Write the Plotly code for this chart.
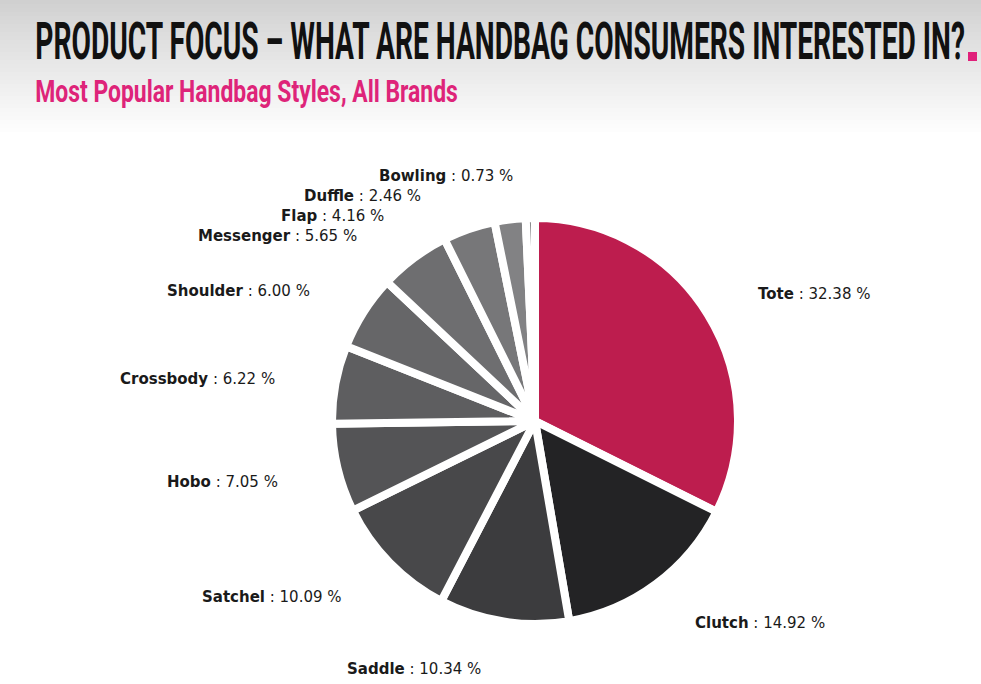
import math
import plotly.graph_objects as go

# Handbag style shares (percent of all brands)
styles = ["Tote", "Clutch", "Saddle", "Satchel", "Hobo", "Crossbody",
          "Shoulder", "Messenger", "Flap", "Duffle", "Bowling"]
shares = [32.38, 14.92, 10.34, 10.09, 7.05, 6.22, 6.00, 5.65, 4.16, 2.46, 0.73]
slice_colors = ["#bd1d4e", "#232325", "#3c3c3e", "#48484a", "#545456", "#5e5e60",
                "#666668", "#6e6e70", "#777779", "#828284", "#8c8c8e"]

title_text = "PRODUCT FOCUS – WHAT ARE HANDBAG CONSUMERS INTERESTED IN?"
subtitle_text = "Most Popular Handbag Styles, All Brands"

W, H = 981, 684
CX, CY, R = 535, 421, 203          # pie centre and radius in pixels
LABEL_R = 1.22 * R                 # radius of the label ring
GAP_RIGHT, GAP_LEFT = 10, 14       # horizontal offset of label from ring
LINE_H = 20                        # minimum vertical spacing between labels


def px(x):
    return x / W


def py(y):
    return 1 - y / H


fig = go.Figure()

fig.add_trace(go.Pie(
    labels=styles,
    values=shares,
    sort=False,
    direction="clockwise",
    rotation=0,
    marker=dict(colors=slice_colors, line=dict(color="white", width=8)),
    textinfo="none",
    hoverinfo="label+percent",
    showlegend=False,
    domain=dict(x=[px(CX - R), px(CX + R)], y=[py(CY + R), py(CY - R)]),
))

# label positions: mid angle of each slice on an outer ring
total = sum(shares)
cum = 0.0
labels = []
for name, v in zip(styles, shares):
    mid = (cum + v / 2) / total * 2 * math.pi
    cum += v
    x = CX + LABEL_R * math.sin(mid)
    y = CY - LABEL_R * math.cos(mid)
    labels.append(dict(name=name, value=v, x=x, y=y, right=math.sin(mid) >= 0))

# keep labels on each side from overlapping: push down from the top
for side in (True, False):
    group = sorted([l for l in labels if l["right"] == side], key=lambda l: l["y"])
    prev = None
    for l in group:
        if prev is not None and l["y"] < prev + LINE_H:
            l["y"] = prev + LINE_H
            dy = l["y"] - CY
            dx = math.sqrt(max(LABEL_R ** 2 - dy ** 2, 0))
            l["x"] = CX + dx if side else CX - dx
        prev = l["y"]

annotations = [
    dict(text=f"<b>{title_text}</b>", x=px(33), y=py(42), xref="paper", yref="paper",
         xanchor="left", yanchor="middle", showarrow=False,
         font=dict(family="Roboto", size=52, color="#111111")),
    dict(text=f"<b>{subtitle_text}</b>", x=px(33), y=py(91), xref="paper", yref="paper",
         xanchor="left", yanchor="middle", showarrow=False,
         font=dict(family="Roboto", size=31, color="#de2479")),
]
for l in labels:
    annotations.append(dict(
        text=f"<b>{l['name']}</b> : {l['value']:.2f} %",
        x=px(l["x"] + (GAP_RIGHT if l["right"] else -GAP_LEFT)),
        y=py(l["y"] + 3),
        xref="paper", yref="paper",
        xanchor="left" if l["right"] else "right", yanchor="middle",
        showarrow=False,
        font=dict(family="DejaVu Sans", size=15, color="#1a1a1a"),
    ))

# header band: soft grey fading to white
shapes = []
steps = 34
for i in range(steps):
    t = i / (steps - 1)
    g = int(208 + (255 - 208) * t ** 0.9)
    shapes.append(dict(type="rect", xref="paper", yref="paper", layer="below",
                       x0=0, x1=1, y0=py(4 * (i + 1)), y1=py(4 * i),
                       fillcolor=f"rgb({g},{g},{g})", line=dict(width=0)))
# accent square after the headline
shapes.append(dict(type="rect", xref="paper", yref="paper",
                   x0=px(968), x1=px(977), y0=py(61), y1=py(52),
                   fillcolor="#e0207a", line=dict(width=0)))

fig.update_layout(
    width=W, height=H,
    margin=dict(l=0, r=0, t=0, b=0),
    paper_bgcolor="white", plot_bgcolor="white",
    annotations=annotations,
    shapes=shapes,
)

# condense the headline and subheading horizontally to fit their width
condense_js = """
var gd = document.getElementById('{plot_id}');
var widths = {'0': 930, '1': 423};
Object.keys(widths).forEach(function(k){
  var t = gd.querySelector('g.annotation[data-index="' + k + '"] text.annotation-text');
  if (t) {
    var w = t.getBBox().width;
    if (w > 0) {
      t.style.transformBox = 'fill-box';
      t.style.transformOrigin = '0 50%';
      t.style.transform = 'scaleX(' + (widths[k] / w) + ')';
    }
  }
});
"""

fig.write_html("out.html", post_script=condense_js)
